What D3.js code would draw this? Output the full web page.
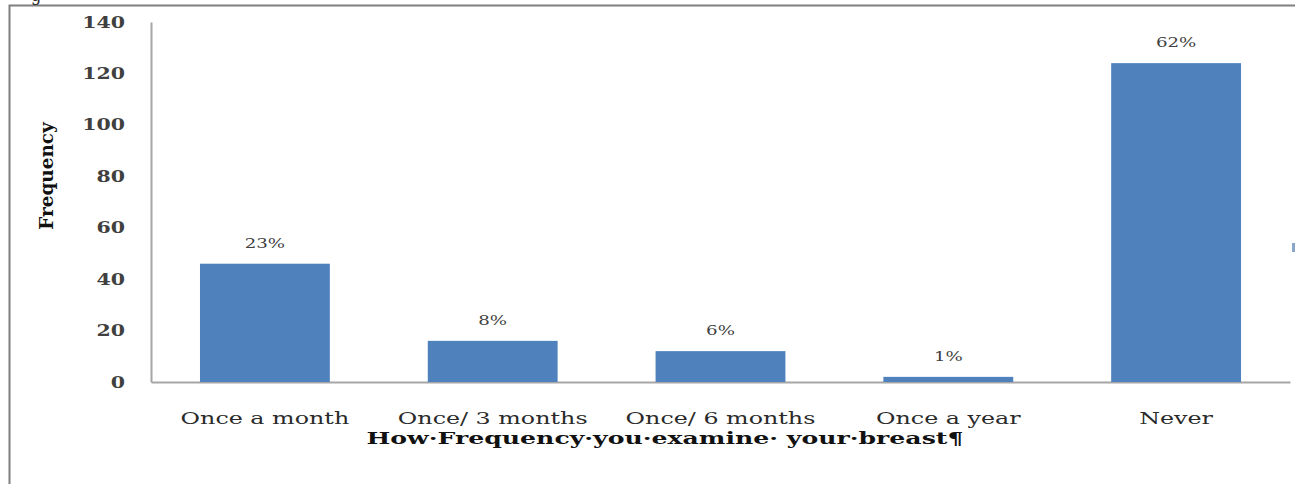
<!DOCTYPE html>
<html>
<head>
<meta charset="utf-8">
<script src="https://cdn.jsdelivr.net/npm/d3@7"></script>
<style>
body { margin: 0; background: #fff; }
svg { display: block; }
</style>
</head>
<body>
<svg width="1295" height="484"></svg>
<script>
const width = 1295
const height = 484

const categories = ["Once a month", "Once/ 3 months", "Once/ 6 months", "Once a year", "Never"]
const frequency = [46, 16, 12, 2, 124]
const percentLabels = ["23%", "8%", "6%", "1%", "62%"]
const yTicks = [0, 20, 40, 60, 80, 100, 120, 140]

const plotLeft = 151, plotRight = 1290, plotTop = 22, plotBottom = 382
const font = "DejaVu Serif"
// the source picture is stretched sideways, so the text is too
const stretch = 1.4

const svg = d3.select("svg")

// outer frame of the figure
svg.append("path")
	.attr("d", "M9.5," + height + "V5.5H" + width)
	.attr("fill", "none")
	.attr("stroke", "#7f7f7f")
	.attr("stroke-width", 2)

// bottom of the caption above, cut by the crop
svg.append("text").attr("x", 31).attr("y", 1)
	.style("font-family", font).style("font-size", "16px").attr("fill", "#222")
	.text("g")

var x = d3.scaleBand()
	.domain(categories)
	.range([plotLeft, plotRight])
	.paddingInner(0.43)
	.paddingOuter(0.215)

var y = d3.scaleLinear()
	.domain([0, 140])
	.range([plotBottom, plotTop])

// y axis
var yAxis = svg.append("g")
	.attr("transform", "translate(" + plotLeft + ",0)")
	.call(d3.axisLeft(y).tickValues(yTicks).tickSize(0))
yAxis.select(".domain").attr("stroke", "#a6a6a6").attr("stroke-width", 2)
yAxis.selectAll("text")
	.attr("x", 0)
	.attr("transform", "translate(-26,0) scale(1.28,1)")
	.style("font-family", font).style("font-size", "16px")
	.style("font-weight", "bold").attr("fill", "#404040")

// x axis
var xAxis = svg.append("g")
	.attr("transform", "translate(0," + plotBottom + ")")
	.call(d3.axisBottom(x).tickSize(0).tickPadding(30))
xAxis.select(".domain").attr("stroke", "#a6a6a6").attr("stroke-width", 2)
xAxis.selectAll("text")
	.attr("transform", "scale(" + stretch + ",1)")
	.style("font-family", font).style("font-size", "17px")
	.attr("fill", "#2a2a2a")

// bars
svg.selectAll("rect.bar").data(frequency).enter().append("rect")
	.attr("class", "bar")
	.attr("x", (d, i) => x(categories[i]))
	.attr("y", d => y(d))
	.attr("width", x.bandwidth())
	.attr("height", d => y(0) - y(d))
	.attr("fill", "#4f81bd")

// data labels
svg.selectAll("text.lbl").data(frequency).enter().append("text")
	.attr("class", "lbl")
	.attr("transform", (d, i) => "translate(" + (x(categories[i]) + x.bandwidth() / 2) + "," + (y(d) - 16) + ") scale(" + stretch + ",1)")
	.attr("text-anchor", "middle")
	.style("font-family", font).style("font-size", "13px")
	.attr("fill", "#404040")
	.text((d, i) => percentLabels[i])

// axis titles
svg.append("text")
	.attr("transform", "translate(53,176) rotate(-90) scale(1.15,1.2)")
	.attr("text-anchor", "middle")
	.style("font-family", font).style("font-size", "16px").style("font-weight", "bold")
	.attr("fill", "#111")
	.text("Frequency")

svg.append("text")
	.attr("transform", "translate(665,444) scale(1.48,1)")
	.attr("text-anchor", "middle")
	.style("font-family", font).style("font-size", "17px").style("font-weight", "bold")
	.attr("fill", "#111")
	.text("How·Frequency·you·examine· your·breast¶")

// legend remnant at right edge
svg.append("rect").attr("x", 1292).attr("y", 243).attr("width", 4).attr("height", 9).attr("fill", "#8aa6c8")
</script>
</body>
</html>
